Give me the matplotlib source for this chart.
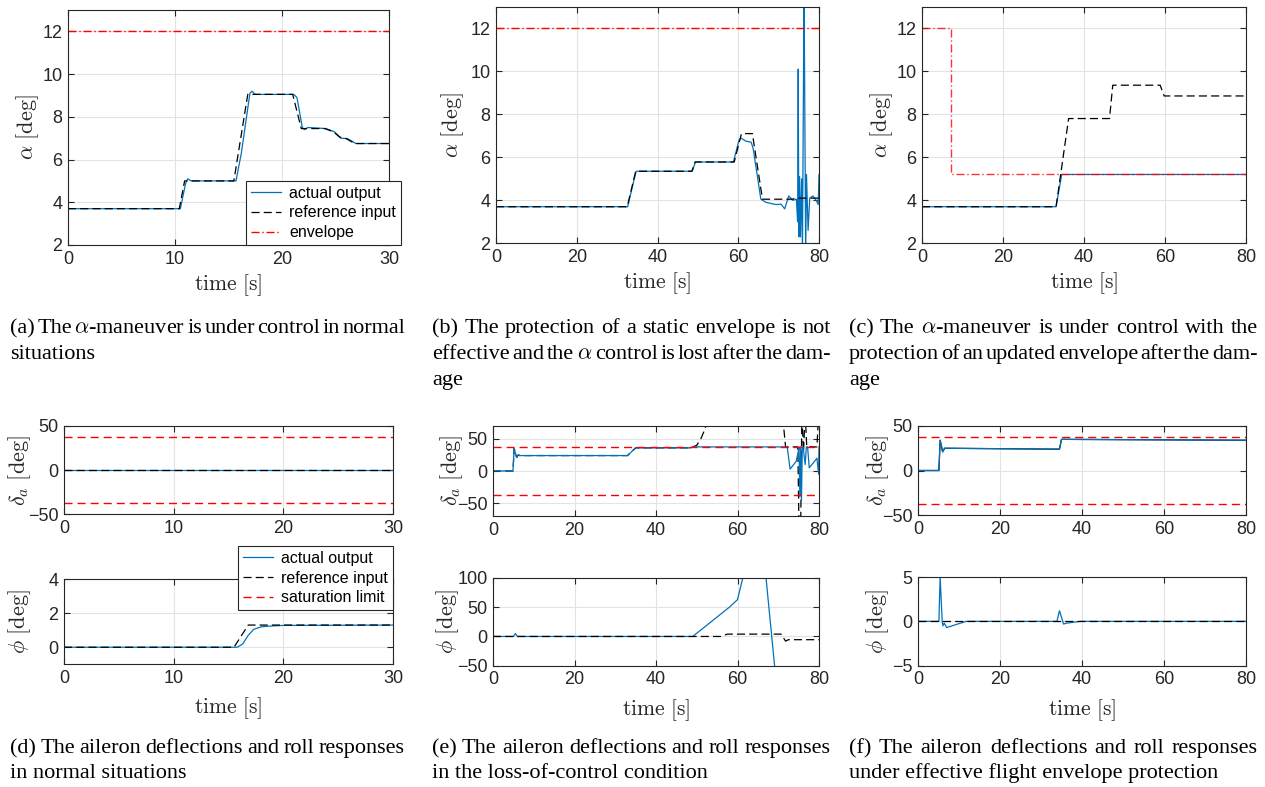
import numpy as np
import matplotlib
matplotlib.use('Agg')
import matplotlib.pyplot as plt

plt.rcParams['font.family'] = ['Liberation Sans', 'DejaVu Sans']
plt.rcParams['mathtext.fontset'] = 'cm'
plt.rcParams['lines.scale_dashes'] = False

W, H = 1265, 787
BLUE = '#0072BD'
DARK = '#262626'

# ---------------- data ----------------
# (a) alpha, normal situation
t_a_ref = [0, 10.4, 10.9, 15.5, 16.8, 21.0, 21.8, 24.0, 24.8, 25.4, 26.0, 26.8, 30]
a_a_ref = [3.7, 3.7, 5.0, 5.0, 9.05, 9.05, 7.45, 7.45, 7.3, 7.05, 6.98, 6.75, 6.75]
t_a_act = [0, 10.5, 11.0, 11.2, 11.5, 15.7, 16.2, 17.0, 17.2, 17.5, 21.1, 21.4, 21.9,
           22.1, 22.4, 24.1, 24.9, 25.5, 26.1, 26.4, 26.9, 30]
a_a_act = [3.7, 3.7, 4.9, 5.1, 5.0, 5.0, 6.3, 9.1, 9.2, 9.05, 9.05, 8.9, 7.5,
           7.4, 7.5, 7.45, 7.3, 7.0, 6.98, 6.9, 6.75, 6.75]
t_a_env = [0, 30]
a_a_env = [12, 12]

# (b) alpha, static envelope
t_b_ref = [0, 32.5, 34.6, 48.5, 49.3, 59.0, 60.8, 63.5, 66.0, 73.5, 74.0, 80]
a_b_ref = [3.7, 3.7, 5.35, 5.35, 5.78, 5.78, 7.1, 7.1, 4.05, 4.05, 4.1, 4.1]
t_b_act = [0, 32.6, 34.7, 48.6, 49.4, 58.8, 60.2, 60.6, 61.9, 63.2, 63.7, 65.6, 66.9,
           69.4, 70.6, 71.5, 72.5, 73.5, 74.4, 74.7, 74.85, 75.0, 75.2, 75.4, 75.7,
           75.9, 76.3, 76.7, 76.9, 77.3, 77.7, 78.5, 78.9, 79.3, 79.8, 80]
a_b_act = [3.7, 3.7, 5.35, 5.35, 5.78, 5.78, 6.8, 6.9, 6.75, 6.7, 6.4, 4.05, 3.9,
           3.8, 3.82, 3.6, 4.2, 4.0, 4.05, 3.0, 10.1, 2.3, 5.1, 2.3, 5.0,
           1.5, 14, 1.5, 5.2, 2.6, 4.1, 4.2, 4.1, 4.0, 3.8, 5.2]
t_b_env = [0, 80]
a_b_env = [12, 12]

# (c) alpha, updated envelope
t_c_ref = [0, 33.1, 36.2, 46.3, 47.1, 58.8, 59.8, 80]
a_c_ref = [3.7, 3.7, 7.8, 7.8, 9.35, 9.35, 8.85, 8.85]
t_c_act = [0, 33.1, 34.5, 80]
a_c_act = [3.7, 3.7, 5.2, 5.2]
t_c_env = [0, 7.15, 7.15, 80]
a_c_env = [12, 12, 5.2, 5.2]

# (d) aileron / roll, normal situation
t_d_da = [0, 30]
d_d_act = [0, 0]
d_d_ref = [0, 0]
sat_d = 37.5
t_d_phi_ref = [0, 15.5, 16.8, 30]
p_d_ref = [0, 0, 1.3, 1.3]
t_d_phi_act = [0, 15.8, 16.3, 16.8, 17.3, 18.0, 19.0, 20.0, 30]
p_d_act = [0, 0, 0.2, 0.7, 1.05, 1.2, 1.25, 1.28, 1.3]

# (e) aileron / roll, loss of control
t_e_da_act = [0, 4.9, 5.2, 5.4, 5.8, 6.2, 6.6, 33.0, 35.0, 48.5, 49.0, 72.2, 72.9, 74.4,
              74.9, 75.1, 75.3, 75.5, 75.7, 75.9, 76.1, 76.6, 76.9, 77.2, 77.6, 78.9,
              79.5, 79.9, 80]
d_e_act = [0, 0, 35, 30, 21, 25, 24, 24, 36, 36, 37.5, 37.5, 3, 15,
           30, 37.5, -40, 37.5, -45, 37.5, 37.5, 10, 37.5, 37.5, 5, 15,
           20, -5, 37.5]
t_e_da_ref = [0, 4.9, 5.2, 5.4, 5.8, 6.2, 6.6, 33.0, 35.0, 48.5, 50.0, 51.0, 52.0, 52.5,
              71.0, 71.8, 74.8, 75.1, 75.5, 75.8, 76.2, 76.6, 77.0, 79.5, 79.9, 80]
d_e_ref = [0, 0, 35, 30, 21, 25, 24, 24, 36, 36, 40, 50, 65, 75,
           90, 37.5, 37.5, -90, -90, 90, 30, 90, 37.5, 37.5, 90, 90]
sat_e = 37.5
t_e_phi_act = [0, 5.0, 5.5, 6.0, 49.0, 58.0, 60.0, 61.3, 62.0, 66.3, 67.0, 69.1, 69.5]
p_e_act = [0, 0, 5, 0, 0, 50, 63, 100, 140, 140, 100, -50, -80]
t_e_phi_ref = [0, 56.0, 57.5, 70.7, 71.8, 72.5, 80]
p_e_ref = [0, 0, 4, 4, -8, -5.5, -5.5]

# (f) aileron / roll, effective protection
t_f_da = [0, 5.1, 5.4, 5.7, 6.0, 6.5, 33.2, 34.5, 35.0, 80]
d_f_act = [0, 0, 34, 28, 21, 25, 24, 24, 35, 34]
d_f_ref = [0, 0, 34, 28, 21, 25, 24, 24, 35, 34]
sat_f = 37.5
t_f_phi_act = [0, 5.1, 5.4, 5.9, 6.1, 6.4, 7.0, 9.0, 11.8, 33.9, 34.5, 35.5, 36.3, 39.6, 80]
p_f_act = [0, 0, 5, 0, -0.5, -0.2, -0.7, -0.4, 0, 0, 1.2, -0.3, -0.2, 0, 0]
t_f_phi_ref = [0, 80]
p_f_ref = [0, 0]

captions = [
    ['(a)  The $\\alpha$-maneuver is under control in normal', 'situations'],
    ['(b)  The protection of a static envelope is not',
     'effective and the $\\alpha$ control is lost after the dam-', 'age'],
    ['(c)  The $\\alpha$-maneuver is under control with the',
     'protection of an updated envelope after the dam-', 'age'],
    ['(d)  The aileron deflections and roll responses', 'in normal situations'],
    ['(e)  The aileron deflections and roll responses', 'in the loss-of-control condition'],
    ['(f)  The aileron deflections and roll responses',
     'under effective flight envelope protection'],
]

# ---------------- figure ----------------
fig = plt.figure(figsize=(W / 100, H / 100), dpi=100)

DASH = (0, (5.8, 3.0))
DASHDOT = (0, (5.8, 2.0, 1.0, 2.0))
SATDASH = (0, (5.8, 3.6))


def add_ax(l, t, r, b):
    return fig.add_axes([l / W, 1 - b / H, (r - l) / W, (b - t) / H])


def style(ax, xlim, xt, ylim, yt, ylab, ylab_off, xlab=False, xlab_off=40):
    ax.set_xlim(xlim)
    ax.set_ylim(ylim)
    ax.set_xticks(xt)
    ax.set_yticks(yt)
    ax.grid(True, color='#e3e3e3', lw=0.8)
    ax.set_axisbelow(True)
    ax.tick_params(direction='in', top=True, right=True, length=4, width=0.8,
                   colors=DARK, labelsize=13, pad=4)
    for s in ax.spines.values():
        s.set_color(DARK)
        s.set_linewidth(0.8)
    bb = ax.get_position()
    wpx = bb.width * W
    hpx = bb.height * H
    ax.set_ylabel(ylab, fontsize=16, color=DARK, va='center')
    ax.yaxis.set_label_coords(-ylab_off / wpx, 0.5)
    if xlab:
        ax.set_xlabel(r'$\mathrm{time\ [s]}$', fontsize=15.5, color=DARK, va='center')
        ax.xaxis.set_label_coords(0.5, -xlab_off / hpx)


alab = r'$\alpha\ [\mathrm{deg}]$'
dlab = r'$\delta_a\ [\mathrm{deg}]$'
plab = r'$\phi\ [\mathrm{deg}]$'
t30 = [0, 10, 20, 30]
t80 = [0, 20, 40, 60, 80]

# (a)
ax = add_ax(68, 10, 389, 245)
ax.plot(t_a_act, a_a_act, color=BLUE, lw=0.9, label='actual output')
ax.plot(t_a_ref, a_a_ref, color='k', lw=0.9, ls=DASH, label='reference input')
ax.plot(t_a_env, a_a_env, color='r', lw=1.0, ls=DASHDOT, label='envelope')
style(ax, (0, 30), t30, (2, 13), [2, 4, 6, 8, 10, 12], alab, 40, True, 40)
leg = ax.legend(loc='lower right', bbox_to_anchor=(1.037, 0.0), fontsize=11.5,
                fancybox=False, framealpha=1, edgecolor=DARK, borderaxespad=0,
                handlelength=1.9, handletextpad=0.5, borderpad=0.3, labelspacing=0.3)
leg.get_frame().set_linewidth(0.8)

# (b)
ax = add_ax(496, 6.7, 819, 243.3)
ax.plot(t_b_act, a_b_act, color=BLUE, lw=0.9)
ax.plot(t_b_ref, a_b_ref, color='k', lw=0.9, ls=DASH)
ax.plot(t_b_env, a_b_env, color='r', lw=1.0, ls=DASHDOT)
style(ax, (0, 80), t80, (2, 13), [2, 4, 6, 8, 10, 12], alab, 43, True, 40)

# (c)
ax = add_ax(922, 6.7, 1246, 243.3)
ax.plot(t_c_act, a_c_act, color=BLUE, lw=0.9)
ax.plot(t_c_ref, a_c_ref, color='k', lw=0.9, ls=DASH)
ax.plot(t_c_env, a_c_env, color='r', lw=1.0, ls=DASHDOT, alpha=0.8)
style(ax, (0, 80), t80, (2, 13), [2, 4, 6, 8, 10, 12], alab, 40, True, 40)

# (d)
ax = add_ax(64, 426, 393, 514.3)
ax.plot(t_d_da, d_d_act, color=BLUE, lw=0.9)
ax.plot(t_d_da, d_d_ref, color='k', lw=0.9, ls=DASH)
ax.axhline(sat_d, color='r', lw=1.0, ls=SATDASH)
ax.axhline(-sat_d, color='r', lw=1.0, ls=SATDASH)
style(ax, (0, 30), t30, (-50, 50), [-50, 0, 50], dlab, 44)

ax = add_ax(64, 579, 393, 664.3)
ax.plot(t_d_phi_act, p_d_act, color=BLUE, lw=0.9, label='actual output')
ax.plot(t_d_phi_ref, p_d_ref, color='k', lw=0.9, ls=DASH, label='reference input')
ax.plot([], [], color='r', lw=1.0, ls=SATDASH, label='saturation limit')
style(ax, (0, 30), t30, (-1, 4), [0, 2, 4], plab, 44, True, 44)
leg = ax.legend(loc='upper right', bbox_to_anchor=(1.0, 1.387), fontsize=11.5,
                fancybox=False, framealpha=1, edgecolor=DARK, borderaxespad=0,
                handlelength=1.9, handletextpad=0.5, borderpad=0.3, labelspacing=0.3)
leg.get_frame().set_linewidth(0.8)

# (e)
ax = add_ax(493, 426, 819, 516)
ax.plot(t_e_da_ref, d_e_ref, color='k', lw=0.9, ls=DASH)
ax.plot(t_e_da_act, d_e_act, color=BLUE, lw=0.9)
ax.axhline(sat_e, color='r', lw=1.0, ls=SATDASH)
ax.axhline(-sat_e, color='r', lw=1.0, ls=SATDASH)
style(ax, (0, 80), t80, (-70, 70), [-50, 0, 50], dlab, 41)

ax = add_ax(493, 578, 819, 665.7)
ax.plot(t_e_phi_act, p_e_act, color=BLUE, lw=0.9)
ax.plot(t_e_phi_ref, p_e_ref, color='k', lw=0.9, ls=DASH)
style(ax, (0, 80), t80, (-50, 100), [-50, 0, 50, 100], plab, 45, True, 44)

# (f)
ax = add_ax(918, 426, 1246, 515)
ax.plot(t_f_da, d_f_ref, color='k', lw=0.9)
ax.plot(t_f_da, d_f_act, color=BLUE, lw=0.9)
ax.axhline(sat_f, color='r', lw=1.0, ls=SATDASH)
ax.axhline(-sat_f, color='r', lw=1.0, ls=SATDASH)
style(ax, (0, 80), t80, (-50, 50), [-50, 0, 50], dlab, 40)

ax = add_ax(918, 577, 1246, 665.7)
ax.plot(t_f_phi_act, p_f_act, color=BLUE, lw=0.9)
ax.plot(t_f_phi_ref, p_f_ref, color='k', lw=0.9, ls=DASH)
style(ax, (0, 80), t80, (-5, 5), [-5, 0, 5], plab, 40, True, 44)

# ---------------- captions (justified) ----------------
renderer = fig.canvas.get_renderer()
CAPFONT = dict(family=['Liberation Serif', 'DejaVu Serif'], fontsize=16, color='k')


def caption(x0, x1, y0, lines, spacing=26):
    for i, line in enumerate(lines):
        y = 1 - (y0 + i * spacing) / H
        if i == len(lines) - 1:
            fig.text(x0 / W, y, line, va='baseline', ha='left', **CAPFONT)
            continue
        words = line.split(' ')
        texts = [fig.text(0, y, w, va='baseline', ha='left', **CAPFONT) for w in words if w]
        widths = [t.get_window_extent(renderer).width for t in texts]
        gap = (x1 - x0 - sum(widths)) / (len(texts) - 1)
        x = x0
        for t, w in zip(texts, widths):
            t.set_x(x / W)
            x += w + gap


caption(10, 405, 333, captions[0])
caption(432, 831, 333, captions[1])
caption(849, 1258, 333, captions[2])
caption(10, 405, 753, captions[3], spacing=25)
caption(432, 831, 753, captions[4], spacing=25)
caption(849, 1258, 753, captions[5], spacing=25)

fig.savefig('out.png', dpi=100)
